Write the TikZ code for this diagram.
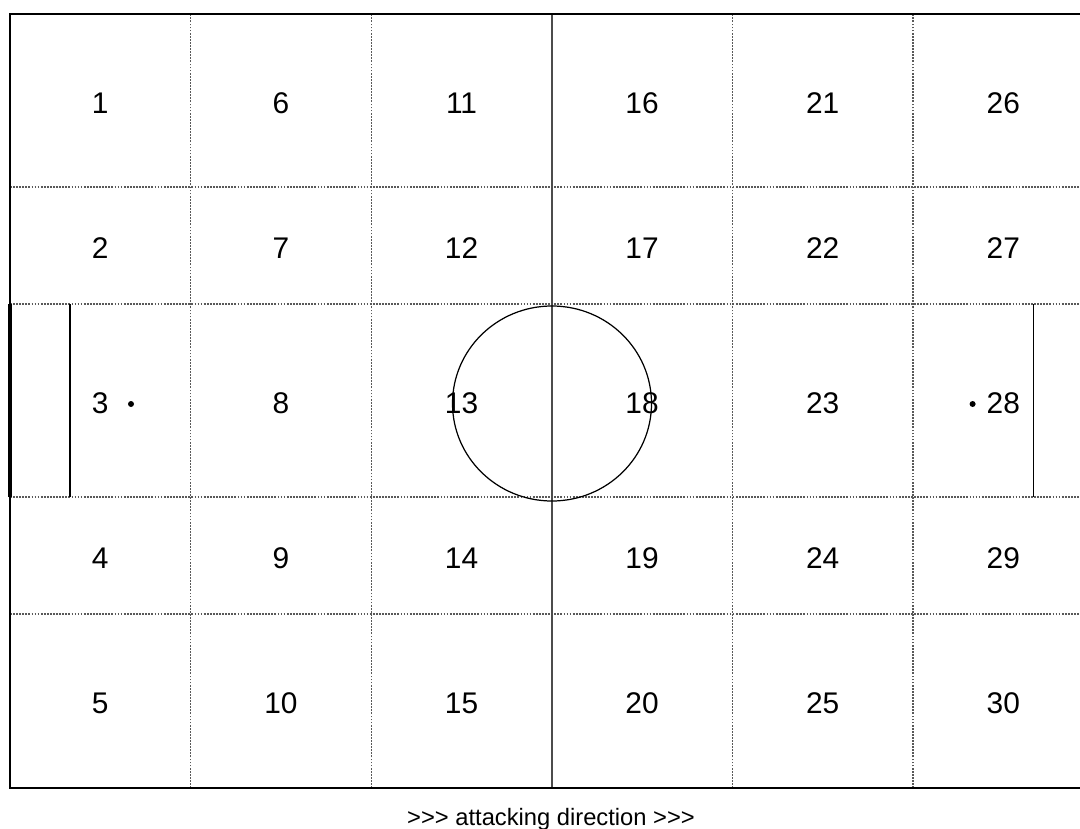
\documentclass[tikz,border=0pt]{standalone}
\usepackage{fontspec}
\setmainfont{Liberation Sans}

\begin{document}
\begin{tikzpicture}[
    zone/.style={font=\fontsize{17}{20}\selectfont, inner sep=0pt},
    gridline/.style={black!65, line width=0.7pt, dash pattern=on 1pt off 0.75pt},
    border/.style={black, line width=1.3pt},
    halfway/.style={black!70, line width=0.9pt},
    boxline/.style={black, line width=1pt},
    goalline/.style={black, line width=2.8pt},
    spot/.style={fill=black}]
  \useasboundingbox (0,0) rectangle (21.6,16.56);
  \clip (0,0) rectangle (21.6,16.56);
  % dotted grid
  \draw[gridline] (3.812,0.8) -- (3.812,16.28);
  \draw[gridline] (7.424,0.8) -- (7.424,16.28);
  \draw[gridline] (14.648,0.8) -- (14.648,16.28);
  \draw[gridline] (18.26,0.8) -- (18.26,16.28);
  \draw[gridline] (0.2,12.82) -- (21.872,12.82);
  \draw[gridline] (0.2,10.48) -- (21.872,10.48);
  \draw[gridline] (0.2,6.62) -- (21.872,6.62);
  \draw[gridline] (0.2,4.28) -- (21.872,4.28);
  % pitch
  \draw[halfway] (11.036,0.8) -- (11.036,16.28);
  \draw[black, line width=0.7pt] (11.04,8.49) ellipse [x radius=1.99, y radius=1.95];
  \draw[border] (0.2,0.8) rectangle (21.872,16.28);
  \draw[goalline] (0.2,6.62) -- (0.2,10.48);
  \draw[goalline] (21.872,6.62) -- (21.872,10.48);
  \draw[boxline] (1.4,6.62) -- (1.4,10.48);
  \draw[boxline] (20.672,6.62) -- (20.672,10.48);
  \fill[spot] (2.62,8.48) circle (0.06);
  \fill[spot] (19.452,8.48) circle (0.06);
  % zones
  \node[zone] (z1) at (2.006,14.5) {1};
  \node[zone] (z2) at (2.006,11.6) {2};
  \node[zone] (z3) at (2.006,8.5) {3};
  \node[zone] (z4) at (2.006,5.4) {4};
  \node[zone] (z5) at (2.006,2.49) {5};
  \node[zone] (z6) at (5.618,14.5) {6};
  \node[zone] (z7) at (5.618,11.6) {7};
  \node[zone] (z8) at (5.618,8.5) {8};
  \node[zone] (z9) at (5.618,5.4) {9};
  \node[zone] (z10) at (5.618,2.49) {10};
  \node[zone] (z11) at (9.23,14.5) {11};
  \node[zone] (z12) at (9.23,11.6) {12};
  \node[zone] (z13) at (9.23,8.5) {13};
  \node[zone] (z14) at (9.23,5.4) {14};
  \node[zone] (z15) at (9.23,2.49) {15};
  \node[zone] (z16) at (12.842,14.5) {16};
  \node[zone] (z17) at (12.842,11.6) {17};
  \node[zone] (z18) at (12.842,8.5) {18};
  \node[zone] (z19) at (12.842,5.4) {19};
  \node[zone] (z20) at (12.842,2.49) {20};
  \node[zone] (z21) at (16.454,14.5) {21};
  \node[zone] (z22) at (16.454,11.6) {22};
  \node[zone] (z23) at (16.454,8.5) {23};
  \node[zone] (z24) at (16.454,5.4) {24};
  \node[zone] (z25) at (16.454,2.49) {25};
  \node[zone] (z26) at (20.066,14.5) {26};
  \node[zone] (z27) at (20.066,11.6) {27};
  \node[zone] (z28) at (20.066,8.5) {28};
  \node[zone] (z29) at (20.066,5.4) {29};
  \node[zone] (z30) at (20.066,2.49) {30};
  \node[font=\fontsize{13.5}{16}\selectfont, anchor=base, inner sep=0pt] (direction) at (11.02,0.06) {>{}>{}> attacking direction >{}>{}>};
\end{tikzpicture}
\end{document}
